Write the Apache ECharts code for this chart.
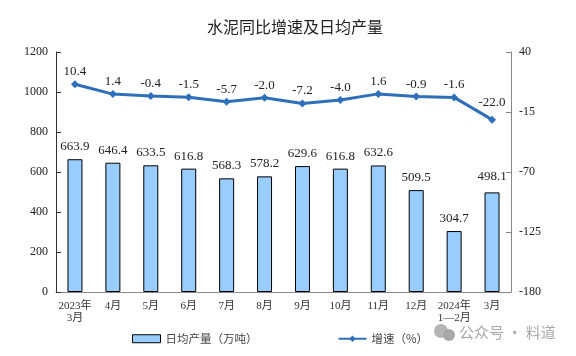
<!DOCTYPE html>
<html><head><meta charset="utf-8">
<style>html,body{margin:0;padding:0;background:#fff}#c{width:576px;height:356px}</style>
<script src="https://cdn.jsdelivr.net/npm/echarts@6/dist/echarts.min.js"></script>
</head><body><div id="c"></div>
<script>
const categories=['2023年\n3月','4月','5月','6月','7月','8月','9月','10月','11月','12月','2024年\n1—2月','3月'];
const output=[663.9,646.4,633.5,616.8,568.3,578.2,629.6,616.8,632.6,509.5,304.7,498.1];
const growth=[10.4,1.4,-0.4,-1.5,-5.7,-2.0,-7.2,-4.0,1.6,-0.9,-1.6,-22.0];
const leftTicks={min:0,max:1200,interval:200};
const rightTicks={min:-180,max:40,interval:55};
const barName='日均产量\uFF08万吨\uFF09';
const lineName='增速\uFF08%\uFF09';
const barLabelLift={11:3};
const lineLabelLift={11:5};
const F='"Liberation Serif","Noto Sans CJK SC",serif';
const chart=echarts.init(document.getElementById('c'),null,{renderer:'canvas'});
const lifted=(vals,lift)=>vals.map((v,i)=>lift[i]?{value:v,label:{offset:[0,-lift[i]]}}:v);
chart.setOption({
 animation:false,backgroundColor:'#fff',
 title:{text:'水泥同比增速及日均产量',left:202,top:14,textStyle:{fontFamily:'"Noto Sans CJK SC",sans-serif',fontSize:16,fontWeight:'normal',color:'#222'}},
 grid:{left:56,right:65,top:52,bottom:64},
 legend:{left:127,top:328,itemGap:80,itemWidth:28,itemHeight:8,selectedMode:false,
  textStyle:{fontFamily:'"Noto Sans CJK SC",sans-serif',fontSize:11.5,color:'#444'},
  data:[{name:barName,icon:'rect',itemStyle:{borderWidth:1,borderColor:'#000',color:'#99ccff'}},{name:lineName}]},
 xAxis:{type:'category',data:categories,
  axisLine:{lineStyle:{color:'#888',width:1}},
  axisTick:{inside:true,length:4,alignWithLabel:false,lineStyle:{color:'#888'}},
  axisLabel:{interval:0,fontFamily:F,fontSize:11,color:'#333',lineHeight:12,margin:8}},
 yAxis:[
  {type:'value',...leftTicks,splitLine:{show:false},
   axisLine:{show:true,lineStyle:{color:'#333'}},axisTick:{show:true,inside:true,length:5,lineStyle:{color:'#333'}},
   axisLabel:{fontFamily:F,fontSize:12,color:'#222',margin:8,formatter:v=>String(v)}},
  {type:'value',...rightTicks,position:'right',splitLine:{show:false},
   axisLine:{show:true,lineStyle:{color:'#888'}},axisTick:{show:true,inside:true,length:5,lineStyle:{color:'#888'}},
   axisLabel:{fontFamily:F,fontSize:12,color:'#222',margin:8,formatter:v=>String(v)}}
 ],
 series:[
  {name:barName,type:'bar',data:lifted(output,barLabelLift),barWidth:15,yAxisIndex:0,
   itemStyle:{color:'#99ccff',borderColor:'#000',borderWidth:1},
   label:{show:true,position:'top',distance:6,fontFamily:F,fontSize:13,color:'#222',formatter:p=>p.value.toFixed(1)}},
  {name:lineName,type:'line',data:lifted(growth,lineLabelLift),yAxisIndex:1,symbol:'diamond',symbolSize:8,
   lineStyle:{color:'#2f6fba',width:3},itemStyle:{color:'#2f6fba'},
   label:{show:true,position:'top',distance:2,fontFamily:F,fontSize:13,color:'#222',formatter:p=>p.value.toFixed(1)}}
 ],
 graphic:[
  {type:'circle',shape:{cx:441,cy:331,r:7},style:{fill:'#b5b5b5'},silent:true},
  {type:'circle',shape:{cx:449,cy:335,r:6},style:{fill:'#a8a8a8'},silent:true},
  {type:'text',left:459,top:325,silent:true,style:{text:'公众号 · 料道',fill:'#aaaaaa',font:'15px "Noto Sans CJK SC",sans-serif'}}
 ]
});
</script></body></html>
